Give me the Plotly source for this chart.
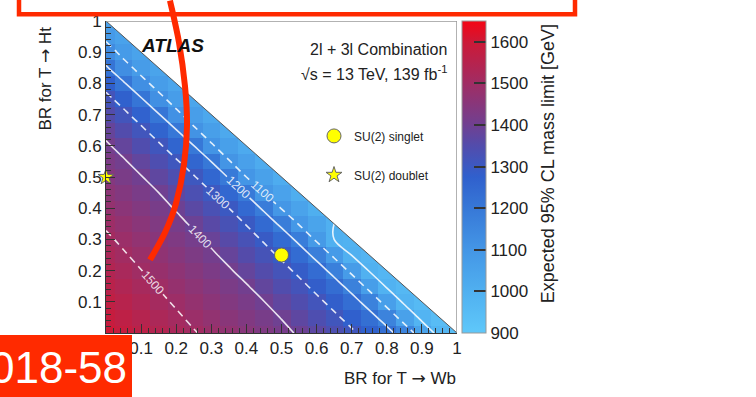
import plotly.graph_objects as go

# ---------------- data ----------------
br_wb = [0.0, 0.05, 0.10, 0.15, 0.20, 0.25, 0.30, 0.35, 0.40, 0.45, 0.50,
         0.55, 0.60, 0.65, 0.70, 0.75, 0.80, 0.85, 0.90, 0.95, 1.0]
br_ht = [0.0, 0.05, 0.10, 0.15, 0.20, 0.25, 0.30, 0.35, 0.40, 0.45, 0.50,
         0.55, 0.60, 0.65, 0.70, 0.75, 0.80, 0.85, 0.90, 0.95, 1.0]

# expected mass limit [GeV]; one row per BR(T->Ht), values along BR(T->Wb)
mass_rows = [
    [1600, 1581, 1562, 1542, 1523, 1504, 1486, 1468, 1450, 1432, 1414, 1394, 1367, 1339, 1311, 1273, 1227, 1160, 1050, 978, 940],
    [1585, 1566, 1547, 1527, 1508, 1489, 1471, 1453, 1435, 1417, 1398, 1370, 1342, 1313, 1276, 1229, 1164, 1058, 983, 949],
    [1570, 1551, 1531, 1512, 1493, 1475, 1456, 1438, 1420, 1401, 1373, 1345, 1316, 1279, 1232, 1167, 1065, 988, 957],
    [1555, 1536, 1516, 1497, 1478, 1460, 1441, 1423, 1404, 1377, 1348, 1319, 1282, 1234, 1171, 1071, 992, 966],
    [1539, 1520, 1501, 1482, 1463, 1444, 1425, 1406, 1380, 1351, 1321, 1286, 1236, 1175, 1077, 996, 974],
    [1524, 1505, 1486, 1467, 1447, 1428, 1409, 1384, 1354, 1324, 1289, 1239, 1178, 1082, 998, 983],
    [1509, 1490, 1470, 1451, 1431, 1412, 1388, 1358, 1327, 1293, 1242, 1182, 1086, 1000, 991],
    [1493, 1473, 1454, 1434, 1415, 1392, 1361, 1329, 1297, 1244, 1185, 1094, 1047, 1000],
    [1476, 1456, 1437, 1417, 1396, 1364, 1332, 1300, 1247, 1188, 1096, 1051, 1005],
    [1459, 1440, 1420, 1400, 1368, 1336, 1303, 1250, 1192, 1098, 1054, 1009],
    [1441, 1422, 1403, 1372, 1339, 1306, 1253, 1195, 1100, 1057, 1014],
    [1425, 1406, 1376, 1342, 1308, 1257, 1199, 1104, 1060, 1018],
    [1408, 1380, 1346, 1311, 1260, 1201, 1108, 1063, 1023],
    [1384, 1349, 1314, 1264, 1203, 1111, 1066, 1028],
    [1352, 1317, 1268, 1206, 1116, 1069, 1032],
    [1319, 1272, 1208, 1120, 1072, 1037],
    [1275, 1210, 1122, 1075, 1042],
    [1212, 1126, 1077, 1046],
    [1133, 1080, 1051],
    [1085, 1055],
    [1060],
]

contour_levels = [1000, 1100, 1200, 1300, 1400, 1500]
contour_dashed = [False, True, False, True, False, True]

colorbar_ticks = [900, 1000, 1100, 1200, 1300, 1400, 1500, 1600]
x_ticks = [0.0, 0.1, 0.2, 0.3, 0.4, 0.5, 0.6, 0.7, 0.8, 0.9, 1.0]
x_tick_text = ["0", "0.1", "0.2", "0.3", "0.4", "0.5", "0.6", "0.7", "0.8", "0.9", "1"]
y_ticks = [0.1, 0.2, 0.3, 0.4, 0.5, 0.6, 0.7, 0.8, 0.9, 1.0]
y_tick_text = ["0.1", "0.2", "0.3", "0.4", "0.5", "0.6", "0.7", "0.8", "0.9", "1"]

singlet_wb = [0.5]
singlet_ht = [0.25]
doublet_wb = [0.0]
doublet_ht = [0.5]

# ---------------- layout helpers (pixels -> paper) ----------------
W, H = 756, 397
PL, PR, PT, PB = 106, 457, 13, 333


def px(x):
    return (x - PL) / (PR - PL)


def py(y):
    return (PB - y) / (PB - PT)


n = len(br_wb)
z = [[(row[i] if i < len(row) else None) for i in range(n)] for row in mass_rows]

colorscale = [
    [0.0, "rgb(95,200,250)"],
    [0.133, "rgb(80,176,240)"],
    [0.267, "rgb(68,150,230)"],
    [0.4, "rgb(55,120,215)"],
    [0.5, "rgb(48,96,205)"],
    [0.6, "rgb(82,76,172)"],
    [0.667, "rgb(112,64,145)"],
    [0.8, "rgb(160,45,100)"],
    [0.933, "rgb(205,25,55)"],
    [1.0, "rgb(245,5,20)"],
]

FONT = "Liberation Sans, Arial, Helvetica, sans-serif"
ARROW = '<span style="font-family:DejaVu Sans">\u2192</span>'

fig = go.Figure()

fig.add_trace(go.Heatmap(
    x=br_wb, y=br_ht, z=z, colorscale=colorscale, zmin=900, zmax=1650,
    hoverongaps=False, showlegend=False,
    colorbar=dict(
        x=px(462), xanchor="left", xpad=0, y=0.5, yanchor="middle",
        len=1, lenmode="fraction", ypad=0, thickness=24, thicknessmode="pixels",
        outlinecolor="#999", outlinewidth=1,
        ticks="inside", ticklen=12, tickcolor="#333", tickwidth=1.5,
        tickvals=colorbar_ticks, tickfont=dict(size=17, color="#222", family=FONT),
    ),
))

for lvl, dashed in zip(contour_levels, contour_dashed):
    fig.add_trace(go.Contour(
        x=br_wb, y=br_ht, z=z, showscale=False, showlegend=False, hoverinfo="skip",
        contours=dict(start=lvl, end=lvl, size=100, coloring="none", showlabels=True,
                      labelfont=dict(size=12, color="rgba(255,255,255,0.85)", family=FONT)),
        line=dict(color="rgba(255,255,255,0.85)", width=1.6,
                  dash="7px,5px" if dashed else "solid", smoothing=1),
    ))

fig.add_trace(go.Scatter(
    x=singlet_wb, y=singlet_ht, mode="markers", name="SU(2) singlet",
    legendgroup="a", cliponaxis=False,
    marker=dict(symbol="circle", size=14, color="#ffff00", line=dict(color="#666", width=1)),
))
fig.add_trace(go.Scatter(
    x=doublet_wb, y=doublet_ht, mode="markers", name="SU(2) doublet",
    legendgroup="b", cliponaxis=False,
    marker=dict(symbol="star", size=12, color="#ffff00", line=dict(color="#666", width=1)),
))

shapes = [
    # white region above the diagonal
    dict(type="path", xref="x", yref="y", path="M 0,1 L 1,0 L 1,1 Z",
         fillcolor="white", line=dict(width=0), layer="above"),
    dict(type="line", xref="x", yref="y", x0=0, y0=1, x1=1, y1=0,
         line=dict(color="#555", width=1), layer="above"),
    dict(type="line", xref="x", yref="y", x0=0, y0=1, x1=1, y1=1,
         line=dict(color="#999", width=1.5), layer="above"),
    dict(type="line", xref="x", yref="y", x0=1, y0=1, x1=1, y1=0,
         line=dict(color="#999", width=1.5), layer="above"),
]

# red overlay rectangle at the top
RED = "#ff2a00"
shapes.append(dict(type="rect", xref="paper", yref="paper",
                   x0=px(19), x1=px(575), y0=py(6), y1=py(-40),
                   line=dict(color=RED, width=4.5), fillcolor="rgba(0,0,0,0)", layer="above"))

# red curved stroke
pts = [(170, -8), (179, 35), (185, 80), (187, 120), (184, 160), (176, 200), (165, 230), (150, 258)]
path = "M %f,%f" % (px(pts[0][0]), py(pts[0][1]))
for k in range(len(pts) - 1):
    p0 = pts[k - 1] if k > 0 else pts[k]
    p1 = pts[k]
    p2 = pts[k + 1]
    p3 = pts[k + 2] if k + 2 < len(pts) else pts[k + 1]
    c1 = (p1[0] + (p2[0] - p0[0]) / 6, p1[1] + (p2[1] - p0[1]) / 6)
    c2 = (p2[0] - (p3[0] - p1[0]) / 6, p2[1] - (p3[1] - p1[1]) / 6)
    path += " C %f,%f %f,%f %f,%f" % (px(c1[0]), py(c1[1]), px(c2[0]), py(c2[1]), px(p2[0]), py(p2[1]))
shapes.append(dict(type="path", xref="paper", yref="paper", path=path,
                   line=dict(color=RED, width=6), layer="above"))

# red label box
shapes.append(dict(type="rect", xref="paper", yref="paper",
                   x0=px(-5), x1=px(132), y0=py(402), y1=py(335),
                   line=dict(width=0), fillcolor=RED, layer="above"))

annotations = [
    dict(text="<b><i>ATLAS</i></b>", x=px(139), y=py(38), xref="paper", yref="paper",
         xanchor="left", yanchor="middle", showarrow=False,
         font=dict(size=19, color="#111", family=FONT)),
    dict(text="2l + 3l Combination", x=px(449), y=py(42), xref="paper", yref="paper",
         xanchor="right", yanchor="middle", showarrow=False,
         font=dict(size=16, color="#222", family=FONT)),
    dict(text="\u221As = 13 TeV, 139 fb<sup>-1</sup>", x=px(449), y=py(66), xref="paper", yref="paper",
         xanchor="right", yanchor="middle", showarrow=False,
         font=dict(size=16, color="#222", family=FONT)),
    dict(text="BR for T " + ARROW + " Wb", x=px(458), y=py(379), xref="paper", yref="paper",
         xanchor="right", yanchor="middle", showarrow=False,
         font=dict(size=17, color="#222", family=FONT)),
    dict(text="BR for T " + ARROW + " Ht", x=px(45), y=py(72), xref="paper", yref="paper",
         xanchor="center", yanchor="middle", showarrow=False, textangle=-90,
         font=dict(size=17, color="#222", family=FONT)),
    dict(text="Expected 95% CL mass limit [GeV]", x=px(548), y=py(160), xref="paper", yref="paper",
         xanchor="center", yanchor="middle", showarrow=False, textangle=-90,
         font=dict(size=18, color="#222", family=FONT)),
    dict(text="018-58", x=px(129), y=py(368), xref="paper", yref="paper",
         xanchor="right", yanchor="middle", showarrow=False,
         font=dict(size=44, color="white", family=FONT)),
]

axis_common = dict(
    range=[0, 1], showgrid=False, zeroline=False, showline=True, linecolor="#333", linewidth=1,
    ticks="inside", ticklen=9, tickcolor="#333", tickwidth=1,
    tickfont=dict(size=17, color="#222", family=FONT),
    minor=dict(ticks="inside", ticklen=5, tickcolor="#333", dtick=0.02, showgrid=False),
)

fig.update_layout(
    width=W, height=H, autosize=False,
    margin=dict(l=PL, r=W - PR, t=PT, b=H - PB, pad=0),
    plot_bgcolor="white", paper_bgcolor="white",
    xaxis=dict(axis_common, tickvals=x_ticks, ticktext=x_tick_text),
    yaxis=dict(axis_common, tickvals=y_ticks, ticktext=y_tick_text),
    shapes=shapes, annotations=annotations,
    showlegend=True,
    legend=dict(x=px(314), y=py(116), xanchor="left", yanchor="top",
                bgcolor="rgba(0,0,0,0)", traceorder="grouped", tracegroupgap=20,
                font=dict(size=12, color="#222", family=FONT)),
)

fig.write_html("out.html")
